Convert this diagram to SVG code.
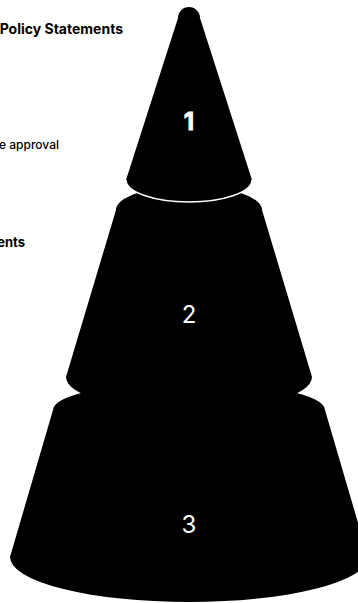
<svg xmlns="http://www.w3.org/2000/svg" width="358" height="603" viewBox="0 0 358 603">
<style>
.cone{fill:#000;}
.num{font-family:Inter,"Liberation Sans",sans-serif;font-size:24px;text-anchor:middle;fill:#fff;}
.lbl{font-family:Inter,"Liberation Sans",sans-serif;fill:#000;text-anchor:end;}
</style>
<rect width="358" height="603" fill="#fff"/>
<g id="labels">
<text class="lbl" x="123" y="33.5" font-size="14" font-weight="700">Policy Statements</text>
<text class="lbl" x="59" y="148.5" font-size="12" font-weight="500">e approval</text>
<text class="lbl" x="25" y="246.5" font-size="13" font-weight="700">ents</text>
</g>
<g id="tier3">
<path class="cone" d="M53,410 A136,28 0 0 1 325,410 L368,557 A179,45 0 0 1 10,557 Z"/>
<text class="num" x="189" y="533">3</text>
</g>
<g id="tier2">
<path class="cone" d="M116,210 A73,24 0 0 1 262,210 L312,377 A123,34 0 0 1 66,377 Z"/>
<text class="num" x="189" y="323">2</text>
</g>
<g id="tier1">
<path class="cone" d="M178,18 A11,11 0 0 1 200,18 L252,180 A63,22 0 0 1 126,180 Z"/>
<path d="M126,180 A63,22 0 0 0 252,180" fill="none" stroke="#fff" stroke-width="1.5"/>
<text class="num" x="189" y="130" font-weight="700" fill="#000" stroke="#fff" stroke-width="0.8">1</text>
</g>
</svg>
